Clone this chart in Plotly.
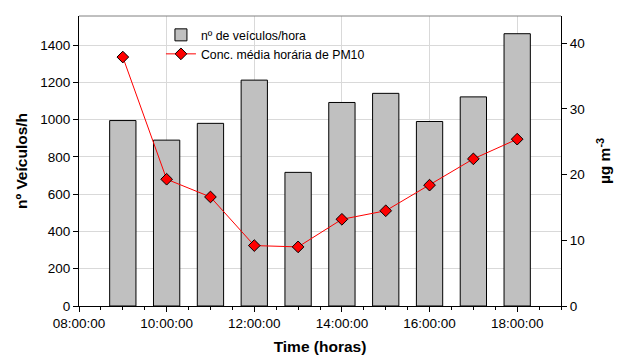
import plotly.graph_objects as go

hours = [9, 10, 11, 12, 13, 14, 15, 16, 17, 18]
vehicles = [995, 890, 980, 1212, 717, 1092, 1141, 990, 1122, 1461]
pm10 = [37.9, 19.3, 16.6, 9.2, 9.0, 13.2, 14.5, 18.4, 22.4, 25.4]
x_tickvals = [8, 10, 12, 14, 16, 18]
x_ticktext = ["08:00:00", "10:00:00", "12:00:00", "14:00:00", "16:00:00", "18:00:00"]

font_family = "Liberation Sans"

fig = go.Figure()
fig.add_trace(go.Bar(
    x=hours, y=vehicles, width=0.6, name="nº de veículos/hora",
    marker=dict(color="#c0c0c0", line=dict(color="#000000", width=1)),
    yaxis="y",
))
fig.add_trace(go.Scatter(
    x=hours, y=pm10, mode="lines+markers", name="Conc. média horária de PM10",
    line=dict(color="#ff0000", width=1),
    marker=dict(symbol="diamond", size=9, color="#ff0000", line=dict(color="#000000", width=1)),
    yaxis="y2",
))

fig.update_layout(
    width=623, height=358,
    margin=dict(l=79, r=62, t=16, b=52),
    plot_bgcolor="white", paper_bgcolor="white",
    font=dict(family=font_family, size=13.5, color="#000000"),
    showlegend=True,
    legend=dict(x=0.17, y=0.985, xanchor="left", yanchor="top",
                bgcolor="rgba(0,0,0,0)", font=dict(size=12.3), tracegroupgap=0,
                itemwidth=30),
    xaxis=dict(
        range=[8, 19], tickvals=x_tickvals, ticktext=x_ticktext,
        showgrid=True, gridcolor="#d9d9d9", gridwidth=1,
        showline=True, linecolor="#000000", linewidth=1,
        ticks="outside", ticklen=5, tickcolor="#000000",
        minor=dict(ticks="outside", dtick=0.5, tick0=8, ticklen=3, tickcolor="#000000", showgrid=False),
        title=dict(text="<b>Time (horas)</b>", standoff=10, font=dict(size=15.5)),
        zeroline=False, automargin=False,
    ),
    yaxis=dict(
        range=[0, 1556], tickvals=[0, 200, 400, 600, 800, 1000, 1200, 1400],
        showgrid=True, gridcolor="#d9d9d9", gridwidth=1,
        showline=True, linecolor="#000000", linewidth=1,
        ticks="outside", ticklen=5, tickcolor="#000000",
        title=dict(text="<b>nº Veículos/h</b>", standoff=8, font=dict(size=15.5)),
        zeroline=False, automargin=False,
    ),
    yaxis2=dict(
        range=[0, 44.15], tickvals=[0, 10, 20, 30, 40],
        overlaying="y", side="right", showgrid=False,
        showline=True, linecolor="#000000", linewidth=1,
        ticks="outside", ticklen=5, tickcolor="#000000",
        title=dict(text="<b>µg m<sup>-3</sup></b>", standoff=15, font=dict(size=15.5)),
        zeroline=False, automargin=False,
    ),
    shapes=[dict(type="line", xref="paper", yref="paper", x0=0, x1=1, y0=1, y1=1,
                 line=dict(color="#808080", width=1))],
)

fig.write_html("out.html", config={"displayModeBar": False},
               post_script="document.body.style.margin='0';")
